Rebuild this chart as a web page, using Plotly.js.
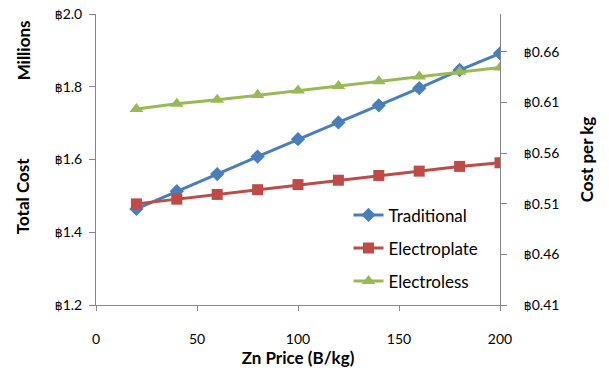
<!DOCTYPE html>
<html><head><meta charset="utf-8">
<script src="https://cdn.plot.ly/plotly-3.0.1.min.js"></script>
<style>html,body{margin:0;padding:0;background:#fff}#c{width:609px;height:376px}</style>
</head><body><div id="c"></div>
<script>
const znPrice = [20, 40, 60, 80, 100, 120, 140, 160, 180, 200];
const traditional = [1.464, 1.513, 1.560, 1.608, 1.656, 1.702, 1.749, 1.796, 1.846, 1.892];
const electroplate = [1.478, 1.491, 1.504, 1.517, 1.531, 1.543, 1.556, 1.568, 1.581, 1.591];
const electroless = [1.739, 1.753, 1.764, 1.777, 1.790, 1.802, 1.815, 1.828, 1.841, 1.853];
const seriesNames = ['Traditional', 'Electroplate', 'Electroless'];
const totalTicks = [1.2, 1.4, 1.6, 1.8, 2.0];
const perKgTicks = [0.41, 0.46, 0.51, 0.56, 0.61, 0.66];
const xTicks = [0, 50, 100, 150, 200];

const F = 'Lato, "Open Sans", sans-serif';
const axisCol = '#868686';
const baht = '<span style="font-family:DejaVu Sans;font-size:12.5px">฿</span>';
function tr(y, name, color, sym, size, g) {
  return {x: znPrice, y: y, name: name, type: 'scatter', mode: 'lines+markers',
    line: {color: color, width: 3}, marker: {symbol: sym, size: size, color: color},
    legendgroup: g};
}
const data = [
  tr(traditional, seriesNames[0], '#4A7EBB', 'diamond', 11, 'a'),
  tr(electroplate, seriesNames[1], '#BE4B48', 'square', 11, 'b'),
  tr(electroless, seriesNames[2], '#98B954', 'triangle-up', 12, 'c')
];
const layout = {
  width: 609, height: 376,
  margin: {l: 96, r: 109, t: 14, b: 71},
  paper_bgcolor: '#fff', plot_bgcolor: '#fff',
  font: {family: F, size: 14, color: '#000'},
  showlegend: true,
  legend: {x: 0.625, y: 0.37, xanchor: 'left', yanchor: 'top', bgcolor: 'rgba(0,0,0,0)',
    font: {family: F, size: 17}, tracegroupgap: 8},
  xaxis: {range: [0, 200], tickvals: xTicks, showgrid: false, zeroline: false,
    showline: true, linecolor: axisCol, linewidth: 1, ticks: 'outside', ticklen: 5, tickcolor: axisCol,
    ticklabelstandoff: 16, tickfont: {family: F, size: 14},
    title: {text: '<b>Zn Price (B/kg)</b>', font: {family: F, size: 17}, standoff: 2}},
  yaxis: {range: [1.2, 2.0], tickvals: totalTicks, ticktext: totalTicks.map(v => baht + v.toFixed(1)),
    showgrid: false, zeroline: false, showline: true, linecolor: axisCol, linewidth: 1,
    ticks: 'outside', ticklen: 6, tickcolor: axisCol, ticklabelstandoff: 4,
    tickfont: {family: F, size: 14}},
  yaxis2: {overlaying: 'y', side: 'right', range: [0.41, 0.6975],
    tickvals: perKgTicks, ticktext: perKgTicks.map(v => baht + v.toFixed(2)),
    showgrid: false, zeroline: false, showline: true, linecolor: axisCol, linewidth: 1,
    ticks: 'outside', ticklen: 6, tickcolor: axisCol, ticklabelstandoff: 14,
    tickfont: {family: F, size: 14},
    title: {text: '<b>Cost per kg</b>', font: {family: F, size: 17}, standoff: 22}},
  annotations: [
    {text: '<b>Millions</b>', xref: 'paper', yref: 'paper', x: -0.18, y: 0.876, textangle: -90,
      showarrow: false, font: {family: F, size: 17}, xanchor: 'center', yanchor: 'middle'},
    {text: '<b>Total Cost</b>', xref: 'paper', yref: 'paper', x: -0.18, y: 0.375, textangle: -90,
      showarrow: false, font: {family: F, size: 17}, xanchor: 'center', yanchor: 'middle'}
  ]
};
const y2trace = {x: [0, 200], y: [0.41, 0.6975], yaxis: 'y2', type: 'scatter', mode: 'none',
  showlegend: false, hoverinfo: 'skip'};
Plotly.newPlot('c', data.concat([y2trace]), layout, {displayModeBar: false, staticPlot: true});
</script></body></html>
